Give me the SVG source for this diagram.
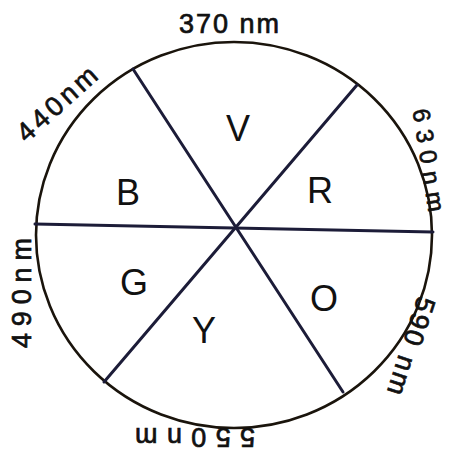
<svg xmlns="http://www.w3.org/2000/svg" width="451" height="457" viewBox="0 0 451 457">
<style>
.lbl{font-family:"Liberation Sans","DejaVu Sans",sans-serif;font-size:27px;fill:#111;stroke:#111;stroke-width:0.7;text-anchor:middle;dominant-baseline:central}
.sm{font-size:24px}
.big{font-family:"Liberation Sans","DejaVu Sans",sans-serif;font-size:36px;fill:#111;text-anchor:middle;dominant-baseline:central}
.ln{stroke:#1c1c38;stroke-width:3;fill:none;stroke-linecap:round}
</style>
<rect width="451" height="457" fill="#ffffff"/>
<g id="wheel">
<ellipse cx="234" cy="235" rx="198" ry="193" fill="none" stroke="#1a140c" stroke-width="2.6"/>
</g>
<g id="connectors">
<line class="ln" x1="35" y1="224" x2="433" y2="232"/>
<line class="ln" x1="133" y1="69" x2="343" y2="392"/>
<line class="ln" x1="357" y1="85" x2="104" y2="382"/>
</g>
<g id="segment-V"><text class="big" x="238" y="128">V</text></g>
<g id="segment-R"><text class="big" x="320" y="190">R</text></g>
<g id="segment-B"><text class="big" x="128" y="192">B</text></g>
<g id="segment-G"><text class="big" x="134" y="282">G</text></g>
<g id="segment-Y"><text class="big" x="204" y="330">Y</text></g>
<g id="segment-O"><text class="big" x="324" y="298">O</text></g>
<g id="label-370"><text class="lbl" x="229" y="24" textLength="100" lengthAdjust="spacing">370 nm</text></g>
<g id="label-440"><text class="lbl" transform="translate(57,104) rotate(-42)" textLength="98" lengthAdjust="spacing">440nm</text></g>
<g id="label-630"><text class="lbl sm" transform="translate(429,160) rotate(81)" textLength="104" lengthAdjust="spacing">630nm</text></g>
<g id="label-490"><text class="lbl" transform="translate(22,293) rotate(-90)" textLength="110" lengthAdjust="spacing">490nm</text></g>
<g id="label-590"><text class="lbl" transform="translate(411,346) rotate(108)" textLength="102" lengthAdjust="spacing">590 nm</text></g>
<g id="label-550"><text class="lbl" transform="translate(195,437) rotate(180)" textLength="120" lengthAdjust="spacing">550nm</text></g>
</svg>
